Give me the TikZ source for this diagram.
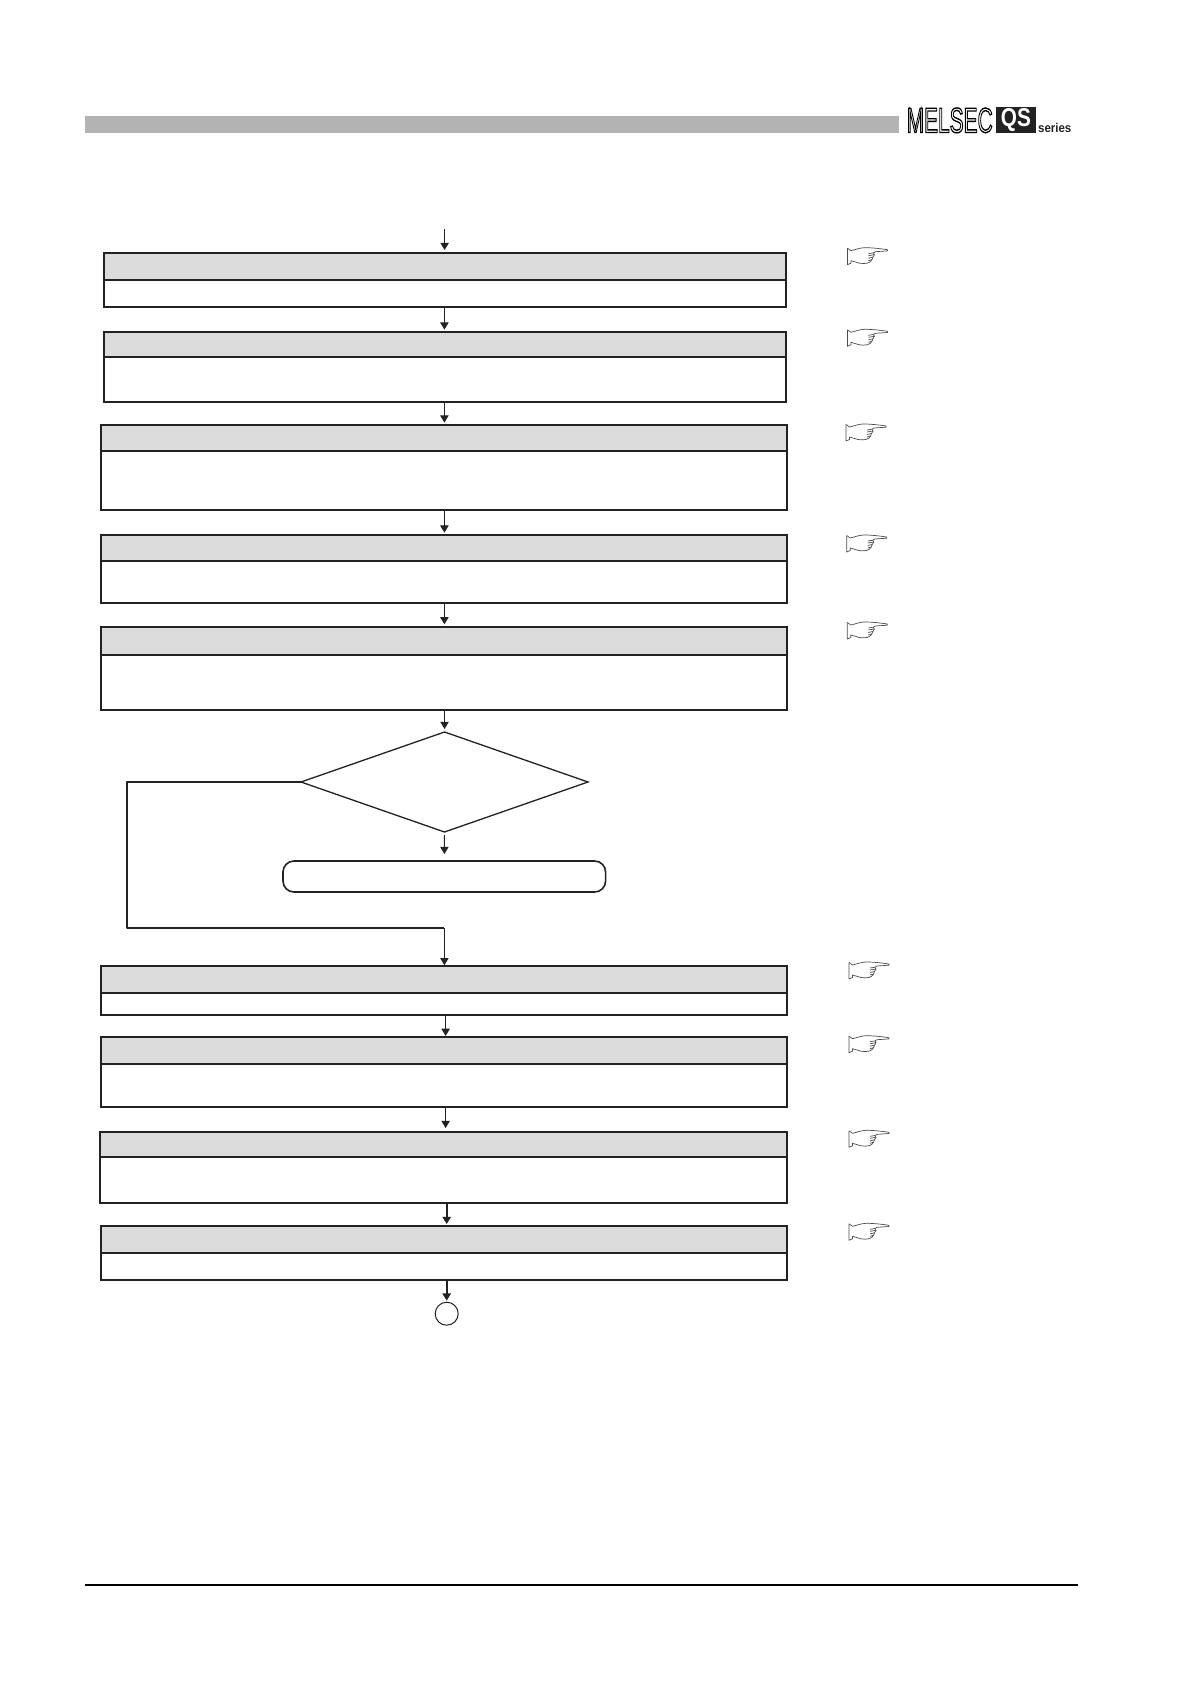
\documentclass[tikz,border=0pt]{standalone}
\usepackage{fontspec}
\setmainfont{Liberation Sans}
\usetikzlibrary{shapes.geometric,arrows.meta}
\definecolor{inkline}{HTML}{222222}
\definecolor{headfill}{HTML}{DCDCDC}
\definecolor{barfill}{HTML}{B3B3B3}
\tikzset{
	headbox/.style={draw=inkline,fill=headfill,line width=1pt,rectangle,inner sep=0pt,outer sep=0pt},
	bodybox/.style={draw=inkline,fill=white,line width=1pt,rectangle,inner sep=0pt,outer sep=0pt},
	flow/.style={draw=inkline,line width=0.5pt,-{Triangle[length=3.6pt,width=4.2pt]}},
	flowbold/.style={draw=inkline,line width=0.9pt,-{Triangle[length=3.6pt,width=4.2pt]}},
	handline/.style={draw=black!70,line width=0.35pt,line join=round},
}
\newcommand{\outlined}[1]{\special{pdf:code 1 Tr 0.4 w}#1\special{pdf:code 0 Tr}}
\begin{document}
\begin{tikzpicture}[x=0.5pt,y=-0.5pt]
	\useasboundingbox (0,0) rectangle (1190,1684);
	\fill[barfill] (85,116) rectangle (899,132.7);
	\draw[black,line width=1pt] (84.5,1585) -- (1078,1585);
	\node[fill=inkline,text=white,font=\bfseries,inner sep=0pt,minimum width=19.8pt,minimum height=13pt] (qsmark) at (1015.9,120) {\resizebox{15pt}{9pt}{QS}};
	\node[inner sep=0pt,anchor=south west,font=\bfseries,text=inkline] (series) at (1037.7,133) {\resizebox{16.6pt}{4.6pt}{series}};
	\foreach \n/\l/\r/\t/\m/\b in {
		1/103.6/785.6/253/280/307,
		2/103.7/785.6/332/357/402,
		3/101/787/425/451/509.7,
		4/101/787/535/560.7/602.7,
		5/101/787/626.7/654.7/709.7,
		6/100.6/787/966/993/1014.7,
		7/101/787/1036.7/1063.7/1106.7,
		8/99.7/787/1132/1157/1203,
		9/101/787/1226/1253/1280}{
		\node[headbox,minimum width={(\r-\l)*0.5pt},minimum height={(\m-\t)*0.5pt}] (head\n) at ({(\l+\r)/2},{(\t+\m)/2}) {};
		\node[bodybox,minimum width={(\r-\l)*0.5pt},minimum height={(\b-\m)*0.5pt}] (body\n) at ({(\l+\r)/2},{(\m+\b)/2}) {};
	}
	\node[diamond,draw=inkline,line width=0.65pt,inner sep=0pt,outer sep=0pt,aspect=2.87,minimum width=143.5pt,minimum height=50pt] (decide) at (444.5,782) {};
	\node[rectangle,rounded corners=5.5pt,draw=inkline,line width=0.8pt,inner sep=0pt,outer sep=0pt,minimum width=161.3pt,minimum height=15.5pt] (stopbox) at (444.3,876.5) {};
	\node[circle,draw=inkline,line width=0.5pt,inner sep=0pt,outer sep=0pt,minimum size=11.5pt] (endmark) at (446.7,1313.7) {};
	\coordinate (entry) at (444.6,229);
	\coordinate (axisA) at (444.4,0);
	\coordinate (axisB) at (445.6,0);
	\coordinate (loopleft) at (126.7,782);
	\coordinate (loopdown) at (126.7,928);
	\coordinate (loopjoin) at (444.4,928);
	\draw[flow,shorten >=1.5pt] (entry) -- (head1.north -| entry);
	\foreach \a/\b/\c/\s in {1/2/axisA/1.2pt,2/3/axisA/1.2pt,3/4/axisA/1.2pt,4/5/axisA/1.2pt,6/7/axisB/0.4pt,7/8/axisB/2pt}
		\draw[flow,shorten >=\s] (body\a.south -| \c) -- (head\b.north -| \c);
	\draw[flowbold,shorten >=1pt] (body8.south -| endmark.north) -- (head9.north -| endmark.north);
	\draw[flowbold,shorten >=0.8pt] (body9.south -| endmark.north) -- (endmark.north);
	\draw[flow,shorten >=1.5pt] (body5.south -| decide.north) -- (decide.north);
	\draw[flow,shorten <=1.5pt,shorten >=3.5pt] (decide.south) -- (stopbox.north);
	\draw[draw=inkline,line width=0.9pt,line join=round] (decide.west) -- (loopleft) -- (loopdown) -- (loopjoin);
	\draw[flow,shorten >=0.4pt] (loopjoin) -- (head6.north -| loopjoin);
	\foreach \x/\y in {847.4/247.7,847.4/329.3,846/424,846.7/535,847.3/622,849/962,849/1035.7,849/1130.3,849/1223.3}{
		\draw[handline,shift={(\x,\y)}] (0,0.5) -- (3.5,3) .. controls (8,2) and (12,0.2) .. (17,0) .. controls (25,0) and (32,0.8) .. (40,2) -- (40,3.2) -- (28,4) -- (26,5.2) -- (21,6);
		\draw[handline,shift={(\x,\y)}] (26,5.2) -- (27,7) -- (21,8);
		\draw[handline,shift={(\x,\y)}] (27,7) -- (25.5,9.5) -- (21,10.5);
		\draw[handline,shift={(\x,\y)}] (25.5,9.5) -- (24.5,12) -- (21,13);
		\draw[handline,shift={(\x,\y)}] (24.5,12) .. controls (23,15.5) and (18,16.5) .. (12,15.5) -- (3.5,13) -- (3.5,15.5) -- (0,17) -- (0,0.5);
	}
	\node[inner sep=0pt] (melsec) at (949.7,120.4) {\resizebox{43pt}{12.3pt}{\outlined{MELSEC}}};
\end{tikzpicture}
\end{document}
